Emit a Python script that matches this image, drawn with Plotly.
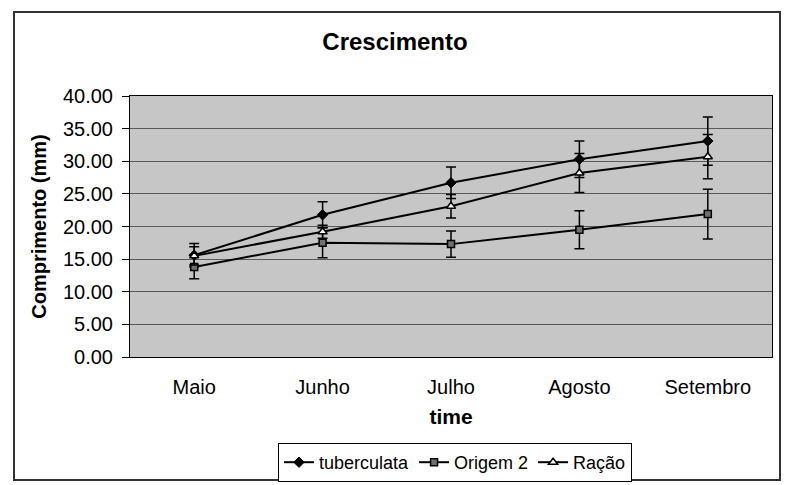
import plotly.graph_objects as go

months = ["Maio", "Junho", "Julho", "Agosto", "Setembro"]
tuberculata = [15.6, 21.8, 26.7, 30.3, 33.1]
tuberculata_err = [1.8, 2.0, 2.4, 2.8, 3.7]
origem2 = [13.8, 17.5, 17.3, 19.5, 21.9]
origem2_err = [1.8, 2.3, 2.0, 2.9, 3.8]
racao = [15.5, 19.2, 23.1, 28.2, 30.7]
racao_err = [1.4, 1.0, 1.8, 3.0, 3.4]
y_ticks = [0, 5, 10, 15, 20, 25, 30, 35, 40]

FONT = "Liberation Sans, Arial, sans-serif"

def err(vals):
    return dict(type="data", array=vals, visible=True, color="black", thickness=1.5, width=5)

fig = go.Figure()
fig.add_trace(go.Scatter(
    x=months, y=tuberculata, name="tuberculata", mode="lines+markers",
    line=dict(color="black", width=2),
    marker=dict(symbol="diamond", size=8, color="black", line=dict(color="black", width=1)),
    error_y=err(tuberculata_err)))
fig.add_trace(go.Scatter(
    x=months, y=origem2, name="Origem 2", mode="lines+markers",
    line=dict(color="black", width=2),
    marker=dict(symbol="square", size=7, color="#707070", line=dict(color="black", width=1.5)),
    error_y=err(origem2_err)))
fig.add_trace(go.Scatter(
    x=months, y=racao, name="Ração", mode="lines+markers",
    line=dict(color="black", width=2),
    marker=dict(symbol="triangle-up", size=8, color="white", line=dict(color="black", width=1.5)),
    error_y=err(racao_err)))

fig.update_layout(
    width=787, height=485,
    margin=dict(l=130, r=15, t=96, b=128, autoexpand=False),
    paper_bgcolor="white", plot_bgcolor="#c6c6c6",
    font=dict(family=FONT, size=20, color="black"),
    title=dict(text="<b>Crescimento</b>", x=(395 - 130) / 642, xref="paper", xanchor="center",
               y=1 - 42 / 485, yanchor="middle", font=dict(size=24, family=FONT)),
    showlegend=True,
    legend=dict(orientation="h", x=(455 - 130) / 642, xanchor="center", y=(357 - 443) / 261, yanchor="top",
                bgcolor="white", bordercolor="black", borderwidth=1,
                font=dict(size=18, family=FONT), itemwidth=30, tracegroupgap=0),
    shapes=[dict(type="rect", xref="paper", yref="paper",
                 x0=(14 - 130) / 642, x1=(780 - 130) / 642,
                 y0=(357 - 480) / 261, y1=(357 - 12) / 261,
                 line=dict(color="#333333", width=2), layer="below")],
)
fig.update_xaxes(
    range=[-0.5, 4.5], automargin=False,
    showgrid=False, showline=True, linecolor="black", linewidth=1, mirror=True,
    ticks="", tickfont=dict(size=20), ticklabelstandoff=12,
    title=dict(text="<b>time</b>", font=dict(size=21), standoff=12),
)
fig.update_yaxes(
    range=[0, 40], tickvals=y_ticks, tickformat=".2f", automargin=False,
    showgrid=True, gridcolor="#5a5a5a", gridwidth=1,
    showline=True, linecolor="black", linewidth=1, mirror=True,
    ticks="outside", ticklen=7, tickcolor="black", tickfont=dict(size=20),
    ticklabelstandoff=5,
    zeroline=False,
    title=dict(text="<b>Comprimento (mm)</b>", font=dict(size=20), standoff=10),
)
fig.write_html("out.html")
